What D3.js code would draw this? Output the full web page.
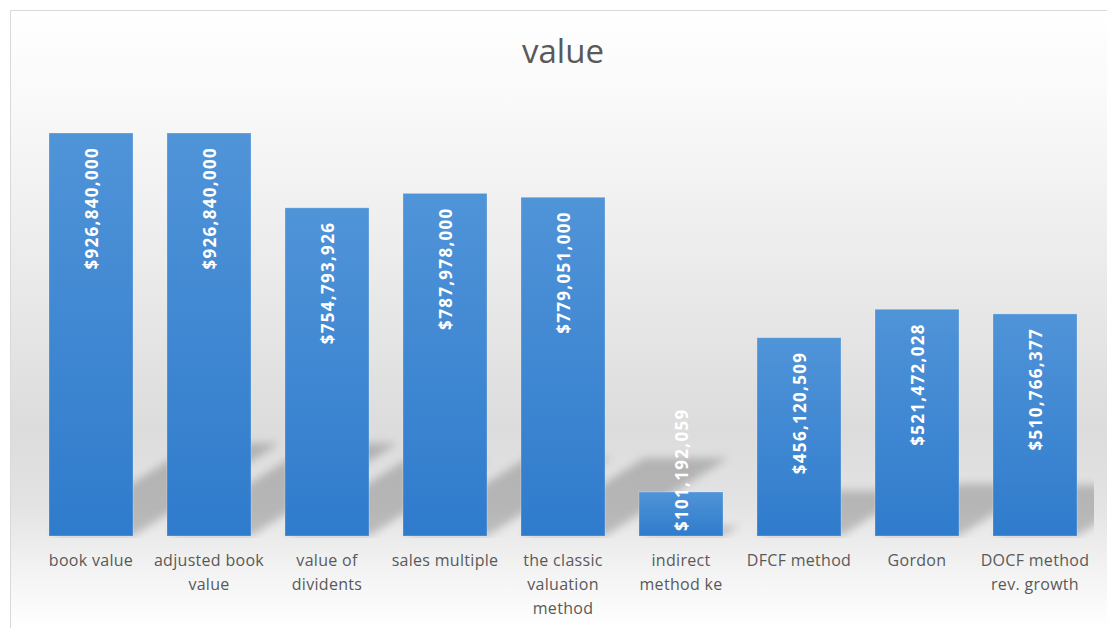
<!DOCTYPE html>
<html>
<head>
<meta charset="utf-8">
<script src="https://cdn.jsdelivr.net/npm/d3@7/dist/d3.min.js"></script>
<style>
  html, body { margin: 0; padding: 0; background: #ffffff; }
  svg { display: block; }
</style>
</head>
<body>
<svg id="chart" width="1107" height="628"></svg>
<script>
// ---- data ----
const categories = [
  "book value",
  "adjusted book\nvalue",
  "value of\ndividents",
  "sales multiple",
  "the classic\nvaluation\nmethod",
  "indirect\nmethod ke",
  "DFCF method",
  "Gordon",
  "DOCF method\nrev. growth"
];
const values = [926840000, 926840000, 754793926, 787978000, 779051000, 101192059, 456120509, 521472028, 510766377];
const chartTitle = "value";

// ---- layout ----
const W = 1107, H = 628;
const base = 536;
const svg = d3.select("#chart");
const defs = svg.append("defs");

const bg = defs.append("linearGradient").attr("id", "bgGrad")
  .attr("gradientUnits", "userSpaceOnUse").attr("x1", 0).attr("y1", 10).attr("x2", 0).attr("y2", 628);
[[0, "#ffffff"], [0.15, "#f9f9f9"], [0.45, "#e9e9e9"], [0.68, "#dcdcdc"], [0.8, "#e3e3e3"], [0.9, "#f2f2f2"], [1, "#ffffff"]]
  .forEach(([o, c]) => bg.append("stop").attr("offset", o).attr("stop-color", c));

const barGrad = defs.append("linearGradient").attr("id", "barGrad")
  .attr("x1", 0).attr("y1", 0).attr("x2", 0).attr("y2", 1);
[[0, "#5094d8"], [1, "#2f7bcc"]]
  .forEach(([o, c]) => barGrad.append("stop").attr("offset", o).attr("stop-color", c));

const blur = defs.append("filter").attr("id", "blur").attr("x", "-20%").attr("y", "-20%").attr("width", "140%").attr("height", "140%");
blur.append("feGaussianBlur").attr("stdDeviation", 4);

defs.append("clipPath").attr("id", "plotClip").append("rect")
  .attr("x", 32).attr("y", 0).attr("width", 1062).attr("height", base + 2);

svg.append("rect").attr("x", 10.5).attr("y", 10.5).attr("width", 1110).attr("height", 640)
  .attr("fill", "url(#bgGrad)").attr("stroke", "#d9d9d9").attr("stroke-width", 1);

// title
svg.append("text").attr("x", 563).attr("y", 63).attr("text-anchor", "middle")
  .attr("font-family", "'Open Sans', sans-serif").attr("font-size", 33).attr("fill", "#595959")
  .text(chartTitle);

// scales
const x = d3.scaleBand().domain(categories).range([32, 1094]).paddingInner(0.288).paddingOuter(0.144);
const y = d3.scaleLinear().domain([0, 1e9]).range([base, 101.2]);

// shadows (perspective, diagonal upper right)
const shadowG = svg.append("g").attr("clip-path", "url(#plotClip)")
  .append("g").attr("filter", "url(#blur)");
shadowG.selectAll("path").data(values).join("path")
  .attr("d", (d, i) => {
    const x0 = x(categories[i]), x1 = x0 + x.bandwidth();
    const h = base - y(d);
    const dx = 0.364 * h, dy = 0.23 * h;
    return `M${x0},${base}L${x1},${base}L${x1 + dx},${base - dy}L${x0 + dx},${base - dy}Z`;
  })
  .attr("fill", "#000").attr("fill-opacity", 0.2);

// bars
svg.append("g").selectAll("rect").data(values).join("rect")
  .attr("x", (d, i) => x(categories[i]))
  .attr("y", d => y(d))
  .attr("width", x.bandwidth())
  .attr("height", d => base - y(d))
  .attr("fill", "url(#barGrad)")
  .attr("stroke", "rgba(255,255,255,0.25)").attr("stroke-width", 1);

// value labels (rotated, inside end)
const fmt = d3.format("$,");
const lab = svg.append("g").selectAll("text").data(values).join("text")
  .attr("font-family", "'Open Sans', sans-serif").attr("font-weight", "bold")
  .attr("font-size", 17).attr("letter-spacing", 1.3).attr("fill", "#ffffff")
  .attr("text-anchor", "start").attr("dominant-baseline", "central")
  .text(d => fmt(d));
lab.each(function (d, i) {
  const len = this.getComputedTextLength();
  const cx = x(categories[i]) + x.bandwidth() / 2;
  let endY = y(d) + 14;
  let startY = endY + len;
  if (startY > base - 5) startY = base - 5;
  d3.select(this).attr("transform", `translate(${cx},${startY}) rotate(-90)`);
});

// category axis labels
const axisG = svg.append("g");
categories.forEach((c, i) => {
  const t = axisG.append("text")
    .attr("x", x(c) + x.bandwidth() / 2).attr("y", 566)
    .attr("text-anchor", "middle")
    .attr("font-family", "'Open Sans', sans-serif").attr("font-size", 16)
    .attr("letter-spacing", 0.3).attr("fill", "#595959");
  c.split("\n").forEach((line, k) => {
    t.append("tspan").attr("x", x(c) + x.bandwidth() / 2).attr("dy", k === 0 ? 0 : 24).text(line);
  });
});
</script>
</body>
</html>
